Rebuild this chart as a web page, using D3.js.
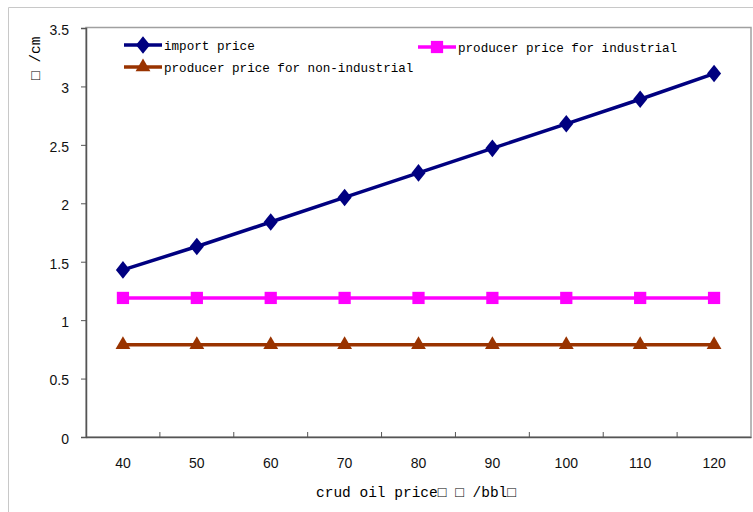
<!DOCTYPE html>
<html><head><meta charset="utf-8">
<script src="https://cdn.jsdelivr.net/npm/d3@7"></script>
<style>body{margin:0;background:#fff}svg{display:block}</style>
</head><body><svg id="c" width="753" height="512"></svg>
<script>
const categories = [40, 50, 60, 70, 80, 90, 100, 110, 120];
const importPrice = [1.43, 1.63, 1.84, 2.05, 2.26, 2.47, 2.68, 2.89, 3.11];
const industrialPrice = [1.19, 1.19, 1.19, 1.19, 1.19, 1.19, 1.19, 1.19, 1.19];
const nonIndustrialPrice = [0.79, 0.79, 0.79, 0.79, 0.79, 0.79, 0.79, 0.79, 0.79];
const yTicks = [0, 0.5, 1, 1.5, 2, 2.5, 3, 3.5];
const seriesNames = ["import price", "producer price for industrial", "producer price for non-industrial"];
const xTitle = "crud oil price\u25A1 \u25A1 /bbl\u25A1";
const yTitle = "\u25A1 /cm";

const svg = d3.select("#c");
const L = 86, T = 28, R = 751, B = 437;
const x = d3.scaleBand().domain(categories).range([L, R]);
const y = d3.scaleLinear().domain([0, 3.5]).range([B, T]);

// outer border
svg.append("path").attr("d", `M8.5,512 V7.5 H753`).attr("fill","none").attr("stroke","#c8c8c8");
// plot frame
svg.append("rect").attr("x", L).attr("y", T - 0.5).attr("width", R - L).attr("height", B - T + 0.5)
  .attr("fill","none").attr("stroke","#a0a0a0").attr("stroke-width",1.5);

const tickFont = "'Liberation Sans', Arial, sans-serif";
const yAxis = svg.append("g").attr("transform", `translate(${L},0)`)
  .call(d3.axisLeft(y).tickValues(yTicks).tickSize(5).tickPadding(12).tickFormat(d3.format("")));
const xAxis = svg.append("g").attr("transform", `translate(0,${B})`)
  .call(d3.axisBottom(x).tickSize(0).tickPadding(21));
// boundary ticks on x axis
svg.append("g").selectAll("line").data(categories.slice(1)).join("line")
  .attr("x1", d => x(d)).attr("x2", d => x(d)).attr("y1", B).attr("y2", B - 5)
  .attr("stroke", "#555");
[yAxis, xAxis].forEach(g => {
  g.select(".domain").attr("stroke", "#555").attr("stroke-width", 1.5);
  g.selectAll(".tick line").attr("stroke", "#555");
  g.selectAll("text").attr("font-family", tickFont).attr("font-size", 14).attr("fill", "#111");
});
yAxis.selectAll(".tick text").attr("dy", "0.45em");

const cx = d => x(d) + x.bandwidth() / 2;
const series = [
  {name: seriesNames[0], values: importPrice, color: "#000080", shape: d3.symbolDiamond, size: 110},
  {name: seriesNames[1], values: industrialPrice, color: "#FF00FF", shape: d3.symbolSquare, size: 150},
  {name: seriesNames[2], values: nonIndustrialPrice, color: "#993300", shape: d3.symbolTriangle, size: 95}
];
const line = d3.line().x((d, i) => cx(categories[i])).y(d => y(d));
series.forEach(s => {
  svg.append("path").datum(s.values).attr("d", line).attr("fill", "none")
    .attr("stroke", s.color).attr("stroke-width", 3.5);
  svg.append("g").selectAll("path").data(s.values).join("path")
    .attr("transform", (d, i) => `translate(${cx(categories[i])},${y(d)})` + (s.shape === d3.symbolDiamond ? " scale(1.25,0.9)" : ""))
    .attr("d", d3.symbol().type(s.shape).size(s.size)).attr("fill", s.color);
});

// legend
const legendFont = "'Liberation Mono', 'DejaVu Sans Mono', monospace";
const legendPos = [[124, 45], [418, 47], [124, 67]];
series.forEach((s, i) => {
  const [lx, ly] = legendPos[i];
  svg.append("line").attr("x1", lx).attr("x2", lx + 38).attr("y1", ly).attr("y2", ly)
    .attr("stroke", s.color).attr("stroke-width", 3.5);
  svg.append("path").attr("transform", `translate(${lx + 19},${ly})` + (s.shape === d3.symbolDiamond ? " scale(1.25,0.9)" : ""))
    .attr("d", d3.symbol().type(s.shape).size(s.size)).attr("fill", s.color);
  svg.append("text").attr("x", lx + 40).attr("y", ly + 5).attr("font-family", legendFont)
    .attr("font-size", 12.6).text(s.name);
});

// axis titles
svg.append("text").attr("x", 316).attr("y", 497).attr("font-family", legendFont)
  .attr("font-size", 14.5).attr("textLength", 200).text(xTitle);
svg.append("text").attr("transform", "translate(40,80) rotate(-90)").attr("font-family", legendFont)
  .attr("font-size", 14.5).text(yTitle);
</script></body></html>
